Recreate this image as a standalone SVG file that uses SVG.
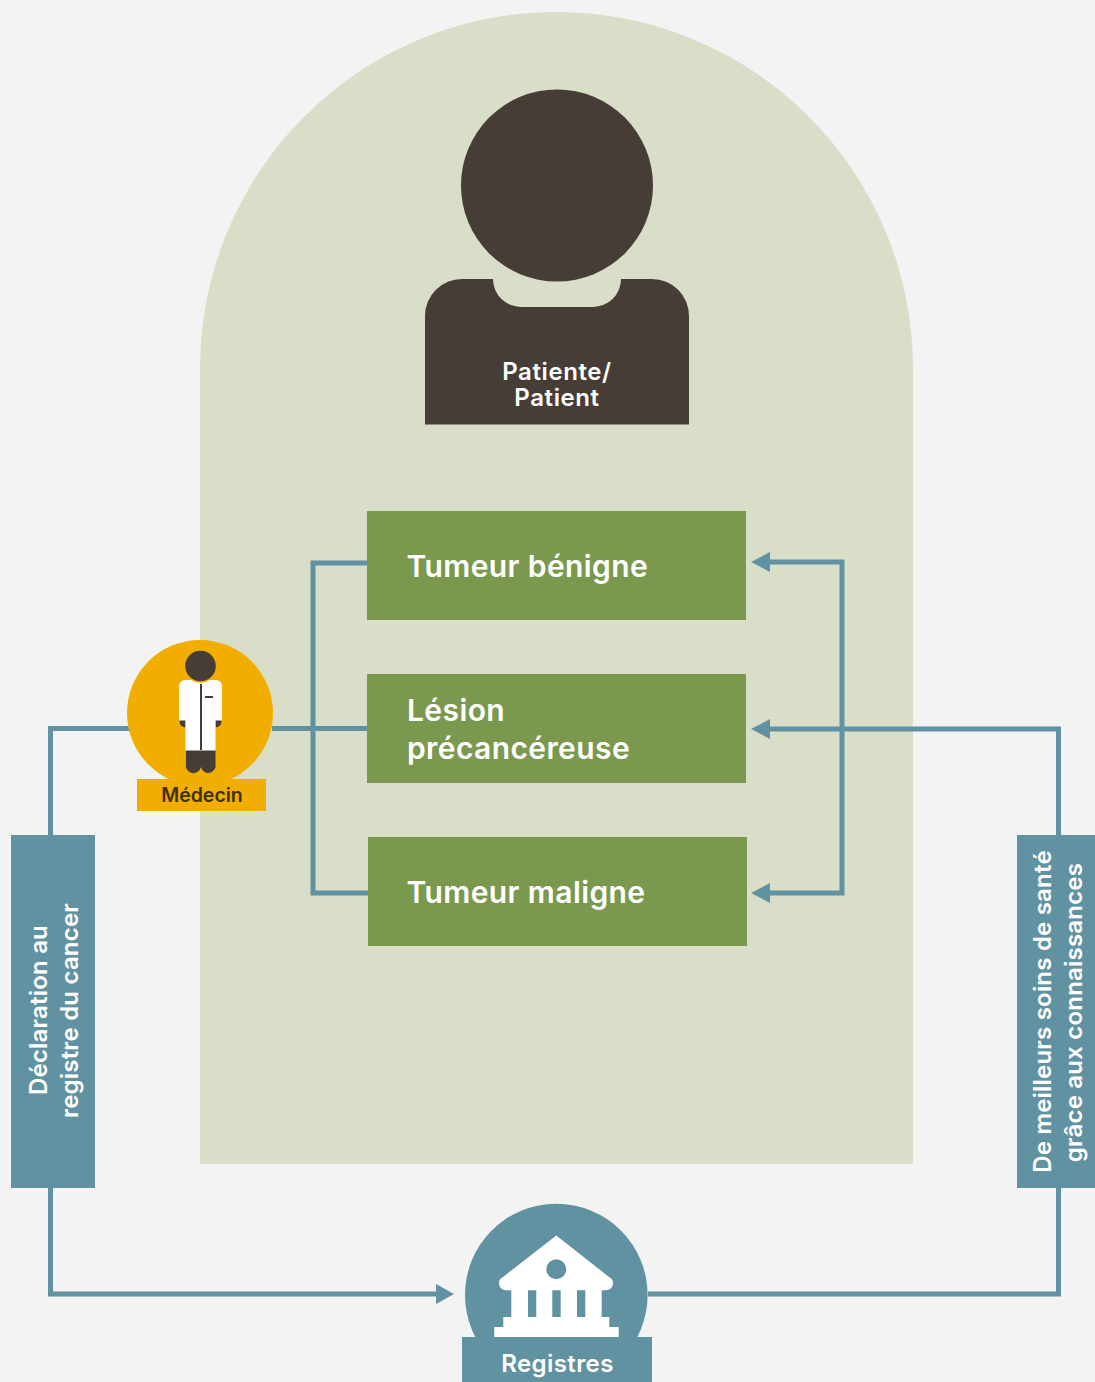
<svg xmlns="http://www.w3.org/2000/svg" width="1095" height="1382" viewBox="0 0 1095 1382">
<style>
text{font-family:"Inter","Liberation Sans",sans-serif;font-weight:600;fill:#fff}
.c{fill:none;stroke:#6092a1;stroke-width:5}
.a{fill:#6092a1}
.b{fill:#7a994f}
.t{font-size:30px;letter-spacing:.4px}
.s{font-size:24px;text-anchor:middle;letter-spacing:.6px}
.v{font-size:24px;text-anchor:middle;letter-spacing:.2px}
.d{fill:#473d37}
</style>
<rect width="1095" height="1382" fill="#f3f3f3"/>
<path id="arch" d="M200 1164V368.500A356.500 356.500 0 0 1 913 368.500V1164Z" fill="#d9dec8"/>
<g id="connectors">
<path class="c" d="M367 563H313V893H368"/>
<path class="c" d="M272 728.500H367"/>
<path class="c" d="M130 728.500H50.500V835"/>
<path class="c" d="M50.500 1188V1294H440"/>
<path class="c" d="M648 1294H1058.500V1188"/>
<path class="c" d="M1058.500 835V729H768"/>
<path class="c" d="M768 562H842V893H768"/>
<path class="a" d="M751 562L770 552V572Z"/>
<path class="a" d="M751 729L770 719V739Z"/>
<path class="a" d="M751 893L770 883V903Z"/>
<path class="a" d="M454 1294L436 1284V1304Z"/>
</g>
<g id="patient">
<circle class="d" cx="557" cy="185.500" r="96"/>
<path class="d" d="M425 424.500V316A37 37 0 0 1 462 279H493A28 28 0 0 0 521 307H593A28 28 0 0 0 621 279H652A37 37 0 0 1 689 316V424.500Z"/>
<text class="s"><tspan x="557" y="380">Patiente/</tspan><tspan x="557" y="406">Patient</tspan></text>
</g>
<g id="benigne">
<rect class="b" x="367" y="511" width="379" height="109"/>
<text class="t" x="406.500" y="577">Tumeur bénigne</text>
</g>
<g id="lesion">
<rect class="b" x="367" y="674" width="379" height="109"/>
<text class="t" x="407" y="721">Lésion</text>
<text class="t" x="407" y="759">précancéreuse</text>
</g>
<g id="maligne">
<rect class="b" x="368" y="837" width="379" height="109"/>
<text class="t" x="406.500" y="903">Tumeur maligne</text>
</g>
<g id="medecin">
<circle cx="200" cy="713" r="73" fill="#f2ae00"/>
<circle class="d" cx="200.500" cy="666" r="15.300"/>
<path class="d" d="M179.500 719H185.500V727.500A6 6 0 0 1 179.500 721.500ZM221.500 719H215.500V727.500A6 6 0 0 0 221.500 721.500Z"/>
<path class="d" d="M186 750H215.500V764A7 7 0 0 1 201 767A7 7 0 0 1 186 764Z"/>
<path fill="#fff" d="M179 686A6 6 0 0 1 185 680H191Q200 686 210 680H216A6 6 0 0 1 222 686V720.500H215.500V750.500H185.500V720.500H179Z"/>
<rect class="d" x="200" y="684" width="2" height="66"/>
<rect class="d" x="205" y="696" width="8" height="2"/>
<rect x="137" y="779" width="129" height="32" fill="#f2ae00"/>
<text x="202" y="802" font-size="19.500" text-anchor="middle" style="fill:#40300a">Médecin</text>
</g>
<g id="declaration">
<rect class="a" x="11" y="835" width="84" height="353"/>
<text class="v" transform="translate(47 1010) rotate(-90)">Déclaration au</text>
<text class="v" transform="translate(78 1010.500) rotate(-90)">registre du cancer</text>
</g>
<g id="soins">
<rect class="a" x="1017" y="835" width="78" height="353"/>
<text class="v" transform="translate(1051 1011.500) rotate(-90)">De meilleurs soins de santé</text>
<text class="v" transform="translate(1082 1012.500) rotate(-90)">grâce aux connaissances</text>
</g>
<g id="registres">
<circle class="a" cx="556.300" cy="1295" r="91.300"/>
<rect class="a" x="462" y="1337" width="190" height="45"/>
<path fill="#fff" fill-rule="evenodd" d="M556.300 1235.500L609 1277A7 7 0 0 1 606 1290.300H601.700V1317H609.300V1327H618.700V1337H494.300V1327H503.300V1317H511.300V1290.300H506A7 7 0 0 1 503 1277ZM528 1290.300V1317H536.300V1290.300ZM552.300 1290.300V1317H560.700V1290.300ZM577 1290.300V1317H585.300V1290.300ZM566.300 1269.300A10 10 0 1 0 546.300 1269.300A10 10 0 1 0 566.300 1269.300Z"/>
<text x="557.500" y="1372" font-size="24" text-anchor="middle" letter-spacing=".4">Registres</text>
</g>
</svg>
